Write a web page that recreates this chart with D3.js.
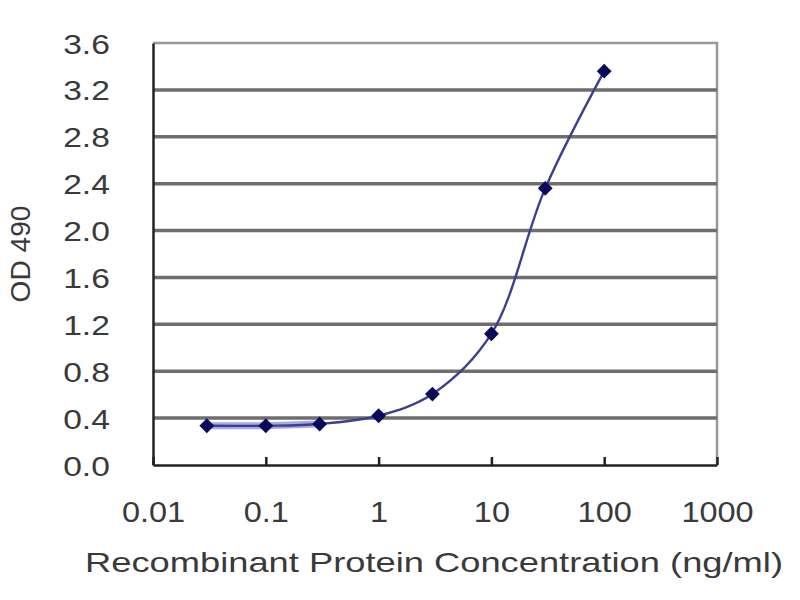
<!DOCTYPE html>
<html>
<head>
<meta charset="utf-8">
<script src="https://cdn.jsdelivr.net/npm/d3@7"></script>
<style>
  html,body{margin:0;padding:0;background:#fff;}
  svg{display:block;font-family:"Liberation Sans",Arial,sans-serif;}
</style>
</head>
<body>
<svg id="chart" width="800" height="600"></svg>
<script>
// concentrations (ng/ml) and OD 490 readings
const conc = [0.03, 0.1, 0.3, 1, 3, 10, 30, 100];
const od = [0.335, 0.335, 0.35, 0.42, 0.605, 1.12, 2.36, 3.36];
const xTicks = [0.01, 0.1, 1, 10, 100, 1000];
const xTickLabels = ["0.01", "0.1", "1", "10", "100", "1000"];
const yTicks = [0, 0.4, 0.8, 1.2, 1.6, 2.0, 2.4, 2.8, 3.2, 3.6];

const plot = {left: 153, right: 717, top: 43, bottom: 465};
const svg = d3.select("#chart");

const x = d3.scaleLog().domain([0.01, 1000]).range([plot.left, plot.right]);
const y = d3.scaleLinear().domain([0, 3.6]).range([plot.bottom, plot.top]);

// border (top/right), light gray
svg.append("path")
  .attr("d", `M${plot.left},${plot.top}H${plot.right}V${plot.bottom}`)
  .attr("fill", "none").attr("stroke", "#999").attr("stroke-width", 2.5);

// grid lines
svg.append("g").selectAll("line")
  .data(yTicks.filter(v => v > 0 && v < 3.6))
  .join("line")
  .attr("x1", plot.left).attr("x2", plot.right)
  .attr("y1", d => y(d)).attr("y2", d => y(d))
  .attr("stroke", "#6e6e6e").attr("stroke-width", 3.5);

// y axis
const yAxis = svg.append("g")
  .attr("transform", `translate(${plot.left},0)`)
  .call(d3.axisLeft(y).tickValues(yTicks).tickFormat(d3.format(".1f")).tickSize(0));
yAxis.select(".domain").attr("stroke", "#222").attr("stroke-width", 2.5);
yAxis.selectAll("text")
  .attr("x", -36).attr("dy", "0.36em")
  .attr("transform", "scale(1.2,1)")
  .attr("fill", "#3a3a3a")
  .style("font-size", "28px");

// x axis
const xAxis = svg.append("g")
  .attr("transform", `translate(0,${plot.bottom})`)
  .call(d3.axisBottom(x).tickValues(xTicks)
    .tickFormat((d, i) => xTickLabels[i]).tickSizeInner(-8).tickSizeOuter(0));
xAxis.select(".domain").attr("stroke", "#222").attr("stroke-width", 2.5);
xAxis.selectAll(".tick line").attr("stroke", "#222").attr("stroke-width", 2.5);
xAxis.selectAll("text")
  .attr("y", 57).attr("dy", 0)
  .attr("transform", "scale(1.12,1)")
  .attr("fill", "#3a3a3a")
  .style("font-size", "29px");

// axis titles
svg.append("text")
  .attr("x", 85).attr("y", 572)
  .attr("textLength", 698).attr("lengthAdjust", "spacingAndGlyphs")
  .attr("fill", "#3a3a3a").style("font-size", "28px")
  .text("Recombinant Protein Concentration (ng/ml)");

svg.append("text")
  .attr("transform", "translate(30,254) rotate(-90)")
  .attr("text-anchor", "middle")
  .attr("textLength", 97).attr("lengthAdjust", "spacingAndGlyphs")
  .attr("fill", "#3a3a3a").style("font-size", "28px")
  .text("OD 490");

// data
const pts = conc.map((c, i) => [x(c), y(od[i])]);

// lavender band over the low plateau
svg.append("path")
  .attr("d", d3.line()(pts.slice(0, 3)))
  .attr("fill", "none").attr("stroke", "#a8a8e6").attr("stroke-width", 7);

svg.append("path")
  .attr("d", d3.line().curve(d3.curveCatmullRom.alpha(0.5))(pts))
  .attr("fill", "none").attr("stroke", "#3e3e8e").attr("stroke-width", 2.4);

svg.append("g").selectAll("path")
  .data(pts)
  .join("path")
  .attr("transform", d => `translate(${d[0]},${d[1]}) rotate(45)`)
  .attr("d", d3.symbol(d3.symbolSquare, 110))
  .attr("fill", "#0a0a5a");
</script>
</body>
</html>
